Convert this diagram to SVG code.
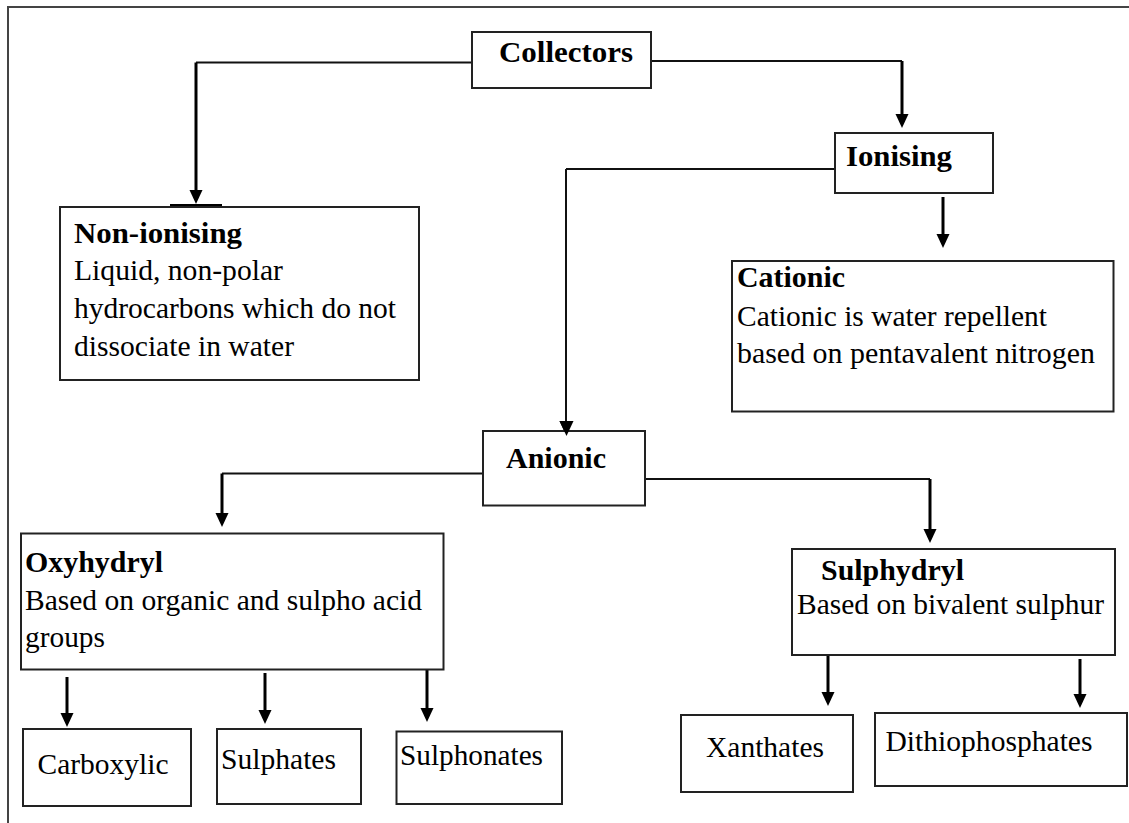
<svg xmlns="http://www.w3.org/2000/svg" width="1129" height="823" viewBox="0 0 1129 823">
<style>
.box{fill:#fff;stroke:#222;stroke-width:2}
.frame{fill:none;stroke:#444;stroke-width:2}
.t{font-family:'Liberation Serif','Tinos','DejaVu Serif','Noto Serif',serif;font-size:29.5px;fill:#000}
.b{font-weight:bold;font-size:30px}
.h{fill:none;stroke:#111;stroke-width:2}
.v{fill:none;stroke:#000;stroke-width:3}
.vt{fill:none;stroke:#111;stroke-width:2}
</style>
<defs>
<marker id="ah" markerUnits="userSpaceOnUse" markerWidth="16" markerHeight="16" viewBox="0 0 16 16" refX="2" refY="8" orient="auto">
<path d="M0,1.5 L14,8 L0,14.5 z" fill="#000"/>
</marker>
</defs>
<path class="frame" d="M8,823 L8,7 L1129,7"/>
<g id="connectors">
<path class="h" d="M472,62.5 L196,62.5"/>
<path class="v" d="M196,62.5 L196,192" marker-end="url(#ah)"/>
<line x1="170" y1="205.5" x2="222" y2="205.5" stroke="#000" stroke-width="3"/>
<path class="h" d="M651,61 L902,61"/>
<path class="v" d="M902,61 L902,116" marker-end="url(#ah)"/>
<path class="h" d="M835,169 L566,169"/>
<path class="vt" d="M566,169 L566,423" marker-end="url(#ah)"/>
<path class="v" d="M943,197 L943,236" marker-end="url(#ah)"/>
<path class="h" d="M483,473.5 L222,473.5"/>
<path class="v" d="M222,473.5 L222,515" marker-end="url(#ah)"/>
<path class="h" d="M645,479 L930,479"/>
<path class="v" d="M930,479 L930,531" marker-end="url(#ah)"/>
<path class="v" d="M67,677 L67,715" marker-end="url(#ah)"/>
<path class="v" d="M265,673 L265,712" marker-end="url(#ah)"/>
<path class="v" d="M427,670 L427,710" marker-end="url(#ah)"/>
<path class="v" d="M828,655 L828,694" marker-end="url(#ah)"/>
<path class="v" d="M1080,659 L1080,696" marker-end="url(#ah)"/>
</g>
<g id="collectors">
<rect class="box" x="472" y="32" width="179" height="56"/>
<text class="t b" x="499" y="62" textLength="134" lengthAdjust="spacingAndGlyphs">Collectors</text>
</g>
<g id="ionising">
<rect class="box" x="835" y="133" width="158" height="60"/>
<text class="t b" x="846" y="166" textLength="106" lengthAdjust="spacingAndGlyphs">Ionising</text>
</g>
<g id="non-ionising">
<rect class="box" x="60" y="207" width="359" height="173"/>
<text class="t b" x="74" y="243" textLength="168" lengthAdjust="spacingAndGlyphs">Non-ionising</text>
<text class="t" x="74" y="280" textLength="209" lengthAdjust="spacingAndGlyphs">Liquid, non-polar</text>
<text class="t" x="74" y="318" textLength="322" lengthAdjust="spacingAndGlyphs">hydrocarbons which do not</text>
<text class="t" x="74" y="356" textLength="220" lengthAdjust="spacingAndGlyphs">dissociate in water</text>
</g>
<g id="cationic">
<rect class="box" x="732" y="261" width="381.5" height="150.5"/>
<text class="t b" x="737" y="287" textLength="108" lengthAdjust="spacingAndGlyphs">Cationic</text>
<text class="t" x="737" y="325.5" textLength="310" lengthAdjust="spacingAndGlyphs">Cationic is water repellent</text>
<text class="t" x="737" y="363" textLength="358" lengthAdjust="spacingAndGlyphs">based on pentavalent nitrogen</text>
</g>
<g id="anionic">
<rect class="box" x="483" y="431" width="162" height="74.5"/>
<text class="t b" x="506" y="468" textLength="100" lengthAdjust="spacingAndGlyphs">Anionic</text>
</g>
<path d="M559.5,421 L566.5,436 L573.5,421 z" fill="#000"/>
<g id="oxyhydryl">
<rect class="box" x="21" y="533.5" width="422.5" height="136"/>
<text class="t b" x="25" y="572" textLength="138" lengthAdjust="spacingAndGlyphs">Oxyhydryl</text>
<text class="t" x="25" y="610" textLength="397" lengthAdjust="spacingAndGlyphs">Based on organic and sulpho acid</text>
<text class="t" x="25" y="647" textLength="80" lengthAdjust="spacingAndGlyphs">groups</text>
</g>
<g id="sulphydryl">
<rect class="box" x="792" y="549" width="323" height="106"/>
<text class="t b" x="821" y="580" textLength="143" lengthAdjust="spacingAndGlyphs">Sulphydryl</text>
<text class="t" x="797" y="614" textLength="307" lengthAdjust="spacingAndGlyphs">Based on bivalent sulphur</text>
</g>
<g id="carboxylic">
<rect class="box" x="23" y="729" width="168" height="77"/>
<text class="t" x="37.5" y="774" textLength="131" lengthAdjust="spacingAndGlyphs">Carboxylic</text>
</g>
<g id="sulphates">
<rect class="box" x="217" y="729" width="144" height="75"/>
<text class="t" x="221" y="769" textLength="115" lengthAdjust="spacingAndGlyphs">Sulphates</text>
</g>
<g id="sulphonates">
<rect class="box" x="396.5" y="731.5" width="165.5" height="72.5"/>
<text class="t" x="400" y="765" textLength="143" lengthAdjust="spacingAndGlyphs">Sulphonates</text>
</g>
<g id="xanthates">
<rect class="box" x="681" y="715" width="172" height="77"/>
<text class="t" x="706" y="757" textLength="118" lengthAdjust="spacingAndGlyphs">Xanthates</text>
</g>
<g id="dithiophosphates">
<rect class="box" x="875" y="713" width="252" height="73"/>
<text class="t" x="885.5" y="751" textLength="207" lengthAdjust="spacingAndGlyphs">Dithiophosphates</text>
</g>
</svg>
